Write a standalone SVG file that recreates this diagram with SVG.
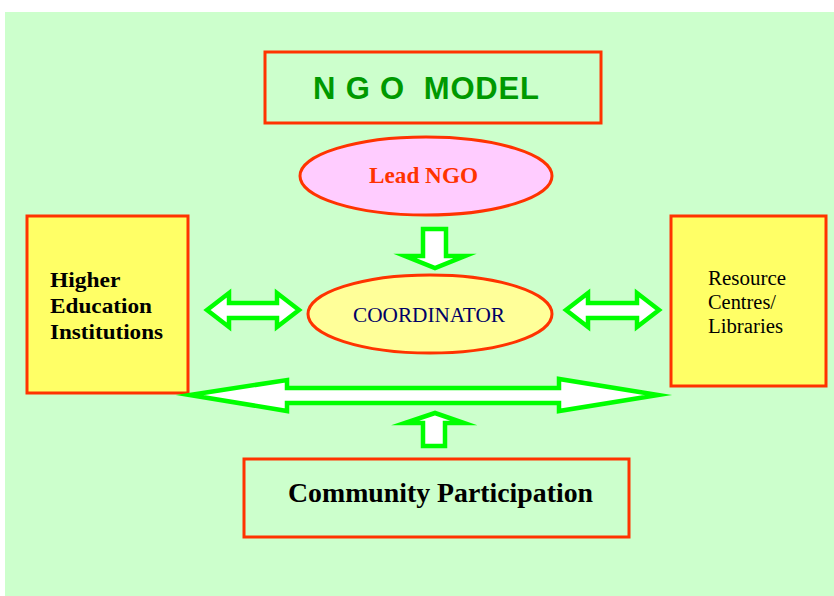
<svg xmlns="http://www.w3.org/2000/svg" width="834" height="596" viewBox="0 0 834 596">
  <style>
    .frame { stroke: #FF3300; stroke-width: 3; }
    .arrow { fill: #FFFFFF; stroke: #00FF00; stroke-width: 4.5; stroke-linejoin: miter; stroke-miterlimit: 20; }
    .serif { font-family: "Liberation Serif", "Times New Roman", serif; }
    .sans { font-family: "Liberation Sans", Arial, sans-serif; }
  </style>

  <!-- page background -->
  <rect x="0" y="0" width="834" height="596" fill="#FFFFFF"/>
  <rect x="5" y="12" width="829" height="584" fill="#CCFFCC"/>

  <!-- title -->
  <g id="title">
    <rect class="frame" x="265" y="52" width="336" height="71" fill="none"/>
    <text class="sans" x="313" y="99" font-size="31" font-weight="bold" fill="#009900" textLength="226" lengthAdjust="spacing" xml:space="preserve">N G O  MODEL</text>
  </g>

  <g id="lead-ngo">
    <ellipse class="frame" cx="426" cy="176" rx="126" ry="39" fill="#FFCCFF"/>
    <text class="serif" x="369" y="183" font-size="23" font-weight="bold" fill="#FF3300" textLength="109" lengthAdjust="spacingAndGlyphs">Lead NGO</text>
  </g>

  <g id="coordinator">
    <ellipse class="frame" cx="430" cy="314" rx="122" ry="39" fill="#FFFF99"/>
    <text class="serif" x="353" y="322" font-size="20.5" fill="#000066" textLength="152" lengthAdjust="spacingAndGlyphs">COORDINATOR</text>
  </g>

  <g id="higher-education">
    <rect class="frame" x="27" y="216" width="161" height="177" fill="#FFFF66"/>
    <text class="serif" font-size="22" font-weight="bold" fill="#000000">
      <tspan x="50" y="287" textLength="70" lengthAdjust="spacingAndGlyphs">Higher</tspan>
      <tspan x="50" y="313" textLength="102" lengthAdjust="spacingAndGlyphs">Education</tspan>
      <tspan x="50" y="339" textLength="113" lengthAdjust="spacingAndGlyphs">Institutions</tspan>
    </text>
  </g>

  <g id="resource-centres">
    <rect class="frame" x="671" y="216" width="155" height="170" fill="#FFFF66"/>
    <text class="serif" font-size="20.5" fill="#000000">
      <tspan x="708" y="285" textLength="78" lengthAdjust="spacingAndGlyphs">Resource</tspan>
      <tspan x="708" y="309" textLength="68" lengthAdjust="spacingAndGlyphs">Centres/</tspan>
      <tspan x="708" y="333" textLength="75" lengthAdjust="spacingAndGlyphs">Libraries</tspan>
    </text>
  </g>

  <g id="community-participation">
    <rect class="frame" x="244" y="459" width="385" height="78" fill="none"/>
    <text class="serif" x="288" y="502" font-size="27" font-weight="bold" fill="#000000" textLength="305" lengthAdjust="spacingAndGlyphs">Community Participation</text>
  </g>

  <!-- block arrows -->
  <g id="connectors">
    <!-- Lead NGO down to coordinator -->
    <path class="arrow" d="M423,229 H446 V256 H465 L435,268 L405,256 H423 Z"/>
    <!-- higher education <-> coordinator -->
    <path class="arrow" d="M207,310 L229,293 V303 H277 V293 L299,310 L277,327 V318 H229 V327 Z"/>
    <!-- coordinator <-> resource centres -->
    <path class="arrow" d="M566,310 L588,293 V303 H637 V293 L659,310 L637,327 V318 H588 V327 Z"/>
    <!-- wide link between the two side boxes -->
    <path class="arrow" d="M190,395 L287,380 V388 H559 V379 L658,395 L559,411 V403 H287 V411 Z"/>
    <!-- community up to the link -->
    <path class="arrow" d="M435,413 L464,423 H445 V446 H423 V423 H405 Z"/>
  </g>
</svg>
